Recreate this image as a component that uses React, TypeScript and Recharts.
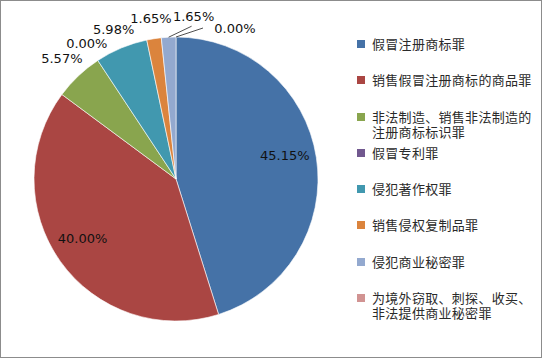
import { PieChart, Pie, Cell } from 'recharts';

// categories and shares (%)
const crimeNames = [
  '假冒注册商标罪',
  '销售假冒注册商标的商品罪',
  '非法制造、销售非法制造的注册商标标识罪',
  '假冒专利罪',
  '侵犯著作权罪',
  '销售侵权复制品罪',
  '侵犯商业秘密罪',
  '为境外窃取、刺探、收买、非法提供商业秘密罪',
];
const shares = [45.15, 40.0, 5.57, 0.0, 5.98, 1.65, 1.65, 0.0];
const sliceColors = ['#4572A7', '#AA4643', '#89A54E', '#71588F', '#4198AF', '#DB843D', '#93A9CF', '#D19392'];

const pieData = crimeNames.map((name, i) => ({ name, value: shares[i] }));

const RAD = Math.PI / 180;
const labelFont = { fontFamily: 'DejaVu Sans, sans-serif', fontSize: 13, fill: '#111' };

// labels that Excel nudged aside, with their leader line end relative to the text
const nudged: Record<number, { dx: number; dy: number; lx: number; ly: number }> = {
  6: { dx: 26, dy: -1, lx: -2, ly: 10 },
  7: { dx: 59, dy: 11, lx: -32, ly: 0 },
};

const renderLabel = (props: any) => {
  const { cx, cy, midAngle, outerRadius, value, index } = props;
  const cos = Math.cos(-midAngle * RAD);
  const sin = Math.sin(-midAngle * RAD);
  const text = `${Number(value).toFixed(2)}%`;
  if (index < 2) {
    const r = outerRadius * 0.79;
    return (
      <text x={cx + r * cos - 2} y={cy + r * sin - 6} textAnchor="middle" dominantBaseline="central" {...labelFont}>
        {text}
      </text>
    );
  }
  const r = outerRadius + (index === 2 ? 24 : 20);
  let x = cx + r * cos;
  let y = cy + r * sin;
  const n = nudged[index];
  if (n) {
    x += n.dx;
    y += n.dy;
    const ex = cx + outerRadius * cos;
    const ey = cy + outerRadius * sin;
    return (
      <g>
        <line x1={ex} y1={ey} x2={x + n.lx} y2={y + n.ly} stroke="#222" strokeWidth={0.8} />
        <text x={x} y={y} textAnchor="middle" dominantBaseline="central" {...labelFont}>
          {text}
        </text>
      </g>
    );
  }
  return (
    <text x={x} y={y} textAnchor="middle" dominantBaseline="central" {...labelFont}>
      {text}
    </text>
  );
};

const App = () => {
  return (
    <div
      style={{
        position: 'fixed',
        left: 0,
        top: 0,
        width: 542,
        height: 358,
        boxSizing: 'border-box',
        border: '1px solid #8c8c8c',
        background: '#fff',
      }}
    >
      <div style={{ position: 'absolute', left: -1, top: -1 }}>
        <PieChart width={340} height={358} margin={{ top: 0, right: 0, bottom: 0, left: 0 }}>
          <Pie
            data={pieData}
            dataKey="value"
            nameKey="name"
            cx={176}
            cy={179}
            outerRadius={142}
            startAngle={90}
            endAngle={-270}
            stroke="#fff"
            strokeWidth={0.6}
            label={renderLabel}
            labelLine={false}
            isAnimationActive={false}
          >
            {pieData.map((_, i) => (
              <Cell key={`cell-${i}`} fill={sliceColors[i]} />
            ))}
          </Pie>
        </PieChart>
      </div>

      {/* Legend */}
      <div
        style={{
          position: 'absolute',
          left: 356,
          top: 35,
          width: 180,
          fontFamily: '"Noto Sans CJK SC", sans-serif',
          fontSize: 13,
          letterSpacing: 0.3,
          color: '#2a2a2a',
        }}
      >
        {crimeNames.map((name, i) => (
          <div key={name} style={{ display: 'flex', alignItems: 'flex-start', height: 36.3, lineHeight: '15px' }}>
            <span
              style={{
                display: 'inline-block',
                width: 8,
                height: 8,
                marginTop: 4,
                marginRight: 7,
                flex: '0 0 auto',
                background: sliceColors[i],
              }}
            />
            <span style={{ width: 164 }}>{name}</span>
          </div>
        ))}
      </div>
    </div>
  );
};

export default App;
